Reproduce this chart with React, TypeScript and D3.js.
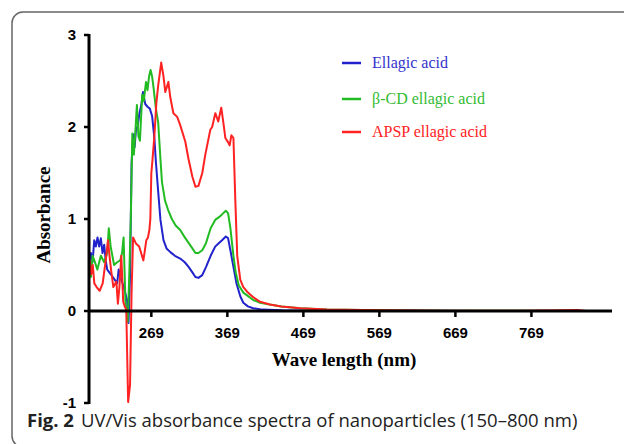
import React from "react";
import * as d3 from "d3";

const ellagicX = [187, 189.5, 191.7, 193.9, 196, 198.2, 200.4, 202.6, 204.8, 207, 209, 211, 215.5, 220, 224, 226, 228, 232.7, 237, 239, 241, 243, 245, 247, 249, 251, 253, 256, 258, 261, 264, 267, 270, 273, 275, 278, 281, 285, 289, 294, 300, 307, 313, 318, 323, 327, 331, 336, 341, 347, 353, 358, 362, 367, 370, 373, 377, 381, 386, 390, 396, 403, 415, 440, 500, 600, 700, 841];
const ellagicY = [0.5, 0.63, 0.53, 0.77, 0.7, 0.8, 0.7, 0.79, 0.63, 0.72, 0.55, 0.45, 0.4, 0.35, 0.3, 0.45, 0.38, 0.26, 0.12, -0.13, 0.4, 1.6, 1.92, 1.78, 1.99, 2.0, 2.13, 2.25, 2.38, 2.25, 2.22, 2.2, 2.12, 1.88, 1.62, 1.3, 0.99, 0.77, 0.68, 0.64, 0.6, 0.57, 0.53, 0.48, 0.42, 0.37, 0.36, 0.39, 0.48, 0.6, 0.7, 0.74, 0.77, 0.81, 0.79, 0.66, 0.48, 0.3, 0.16, 0.09, 0.05, 0.03, 0.015, 0.008, 0.004, 0.002, 0.001, 0];

const cdX = [187, 189.5, 191.7, 194, 198, 202.6, 207, 211, 213, 215.5, 220, 224, 228, 230.5, 232.5, 235, 238, 240, 242, 244, 246, 248, 250, 252, 254, 257, 259, 262, 264, 266, 268, 270, 272, 275, 278, 281, 283, 287, 291, 296, 301, 307, 313, 318, 323, 327, 331, 336, 341, 347, 353, 358, 362, 367, 370, 373, 377, 380, 384, 390, 395, 403, 412, 425, 440, 465, 500, 570, 660, 760, 841];
const cdY = [0.4, 0.37, 0.6, 0.55, 0.45, 0.6, 0.53, 0.63, 0.9, 0.7, 0.5, 0.53, 0.55, 0.63, 0.8, 0.08, -0.12, 0.4, 1.0, 1.93, 1.7, 1.95, 2.24, 1.9, 1.85, 2.35, 2.28, 2.49, 2.4, 2.55, 2.62, 2.55, 2.42, 2.2, 2.05, 1.65, 1.4, 1.2, 1.1, 1.0, 0.93, 0.88, 0.8, 0.74, 0.68, 0.63, 0.63, 0.66, 0.74, 0.9, 0.99, 1.02, 1.05, 1.09, 1.06, 0.9, 0.6, 0.42, 0.28, 0.2, 0.17, 0.12, 0.09, 0.07, 0.05, 0.03, 0.015, 0.008, 0.004, 0.002, 0];

const apspX = [187, 188, 190, 192, 194, 197, 201, 205, 209, 212, 214, 216, 219, 223, 225, 227, 229.5, 232, 234, 236, 238.5, 241, 243, 245, 249, 253, 255.6, 258.5, 260, 262.4, 264.6, 266.4, 267.7, 269, 270.3, 273, 275.6, 278, 282, 284.8, 287.4, 291.4, 294, 298, 303, 307, 313.7, 317.7, 323, 327, 331, 336, 340, 346.6, 349, 353.2, 357, 361, 363.7, 366.4, 370.3, 372, 374.3, 377, 379.5, 382, 386, 390, 395, 403, 412, 425, 440, 465, 500, 570, 660, 760, 830, 841];
const apspY = [0.45, 0.55, 0.4, 0.5, 0.3, 0.26, 0.22, 0.3, 0.55, 0.77, 0.6, 0.45, 0.26, 0.32, 0.08, 0.26, 0.6, 0.1, 0.05, 0.02, -0.99, -0.8, 0.2, 0.8, 0.73, 0.7, 0.63, 0.55, 0.63, 0.77, 0.8, 0.88, 1.0, 1.5, 1.62, 1.9, 2.26, 2.45, 2.7, 2.56, 2.38, 2.49, 2.32, 2.15, 2.11, 2.02, 1.84, 1.66, 1.46, 1.35, 1.36, 1.5, 1.7, 1.97, 2.0, 2.15, 2.06, 2.21, 2.05, 1.88, 1.83, 1.8, 1.91, 1.88, 1.2, 0.6, 0.34, 0.26, 0.21, 0.15, 0.1, 0.07, 0.05, 0.03, 0.015, 0.008, 0.004, 0.003, 0.01, 0];

const xTicks = [269, 369, 469, 569, 669, 769];
const yTicks = [-1, 0, 1, 2, 3];

const seriesNames = ["Ellagic acid", "\u03b2-CD ellagic acid", "APSP ellagic acid"];
const seriesColors = ["#2222cc", "#22bb22", "#ff2222"];
const textColors = ["#3333cc", "#33bb33", "#ff2222"];

export default function App() {
  const x = d3.scaleLinear().domain([187, 875]).range([89, 612]);
  const y = d3.scaleLinear().domain([-1, 3]).range([403, 35]);
  const line = d3
    .line<[number, number]>()
    .x((d) => x(d[0]))
    .y((d) => y(d[1]));
  const series = [
    ellagicX.map((v, i) => [v, ellagicY[i]] as [number, number]),
    cdX.map((v, i) => [v, cdY[i]] as [number, number]),
    apspX.map((v, i) => [v, apspY[i]] as [number, number]),
  ];
  const legendY = [63, 99, 132];
  return (
    <svg
      width={624}
      height={444}
      style={{ position: "absolute", left: 0, top: 0, display: "block", background: "#fff" }}
    >
      <rect x={12} y={12} width={660} height={435} rx={11} fill="#fff" stroke="#666" strokeWidth={1.5} />
      {series.map((s, i) => (
        <path key={i} d={line(s) || ""} fill="none" stroke={seriesColors[i]} strokeWidth={2} strokeLinejoin="round" />
      ))}
      {/* y axis */}
      <line x1={x(187)} x2={x(187)} y1={y(3) - 1} y2={y(-1) + 1} stroke="#000" strokeWidth={3} />
      {yTicks.map((t) => (
        <g key={t}>
          <line x1={x(187) - 5} x2={x(187)} y1={y(t)} y2={y(t)} stroke="#000" strokeWidth={2.5} />
          <text
            x={x(187) - 13}
            y={y(t) + 5}
            textAnchor="end"
            fontFamily="Liberation Sans, Arial, sans-serif"
            fontWeight="bold"
            fontSize={15}
          >
            {t}
          </text>
        </g>
      ))}
      {/* x axis */}
      <line x1={x(187)} x2={x(875)} y1={y(0)} y2={y(0)} stroke="#000" strokeWidth={3} />
      {xTicks.map((t) => (
        <g key={t}>
          <line x1={x(t)} x2={x(t)} y1={y(0)} y2={y(0) + 6} stroke="#000" strokeWidth={2.5} />
          <text
            x={x(t)}
            y={y(0) + 27}
            textAnchor="middle"
            fontFamily="Liberation Sans, Arial, sans-serif"
            fontWeight="bold"
            fontSize={15}
          >
            {t}
          </text>
        </g>
      ))}
      <text
        x={344}
        y={366}
        textAnchor="middle"
        fontFamily="Liberation Serif, Times New Roman, serif"
        fontWeight="bold"
        fontSize={19}
      >
        Wave length (nm)
      </text>
      <text
        transform="translate(50,215) rotate(-90)"
        textAnchor="middle"
        fontFamily="Liberation Serif, Times New Roman, serif"
        fontWeight="bold"
        fontSize={19}
      >
        Absorbance
      </text>
      {seriesNames.map((n, i) => (
        <g key={n}>
          <line x1={342} x2={361} y1={legendY[i]} y2={legendY[i]} stroke={seriesColors[i]} strokeWidth={2.5} />
          <text
            x={372}
            y={legendY[i] + 5}
            fill={textColors[i]}
            fontFamily="Liberation Serif, Times New Roman, serif"
            fontSize={16}
          >
            {n}
          </text>
        </g>
      ))}
      <text x={27} y={427} fontFamily="Open Sans, Noto Sans, sans-serif" fontSize={18.5} fill="#222">
        <tspan fontWeight="bold">Fig. 2</tspan>
        <tspan dx={7}>UV/Vis absorbance spectra of nanoparticles (150–800 nm)</tspan>
      </text>
    </svg>
  );
}
